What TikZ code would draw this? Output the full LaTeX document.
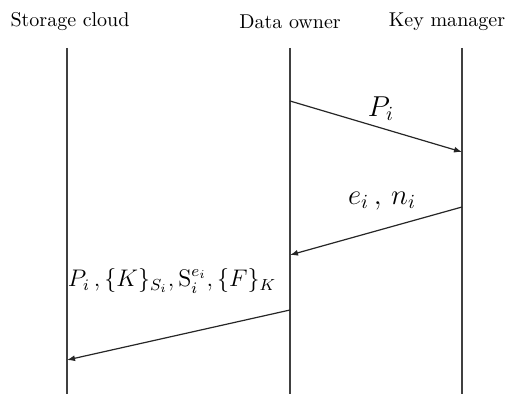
\documentclass[tikz,border=0pt]{standalone}
\usepackage{amsmath,amssymb}
\usepackage{tikz}
\usetikzlibrary{arrows.meta,calc,positioning}

\begin{document}
\begin{tikzpicture}[x=0.5pt, y=-0.5pt,
     party/.style={font=\normalsize, inner sep=0pt},
     life/.style={draw=black!75, line width=0.7pt},
     msg/.style={draw=black!85, line width=0.6pt, -{Latex[length=4pt,width=3pt]}},
     lbl/.style={font=\Large, inner sep=0pt}]
\useasboundingbox (0,0) rectangle (507,394);
% lifelines
\node[party] (sc) at (70,22)  {Storage cloud};
\node[party] (do) at (290,22) {Data owner};
\node[party] (km) at (447,22) {Key manager};
\foreach \n/\x in {sc/67,do/290,km/462} {
  \coordinate (\n top) at (\x,48);
  \coordinate (\n bot) at (\x,394);
  \draw[life] (\n top) -- (\n bot);
}
% message ends
\coordinate (m1s) at (290,101);
\coordinate (m1e) at (462,152);
\coordinate (m2s) at (462,207);
\coordinate (m2e) at (290,255);
\coordinate (m3s) at (290,310);
\coordinate (m3e) at (67,360);
\draw[msg] (m1s) -- (m1e);
\draw[msg] (m2s) -- (m2e);
\draw[msg] (m3s) -- (m3e);
\node[lbl] (l1) at (381,109) {$P_i$};
\node[lbl] (l2) at (382,201) {$e_i\,,\,n_i$};
\node[lbl, font=\large] (l3) at (172,281) {$P_i\,,\{K\}_{S_i},\mathrm{S}_i^{e_i},\{F\}_K$};
\end{tikzpicture}
\end{document}
